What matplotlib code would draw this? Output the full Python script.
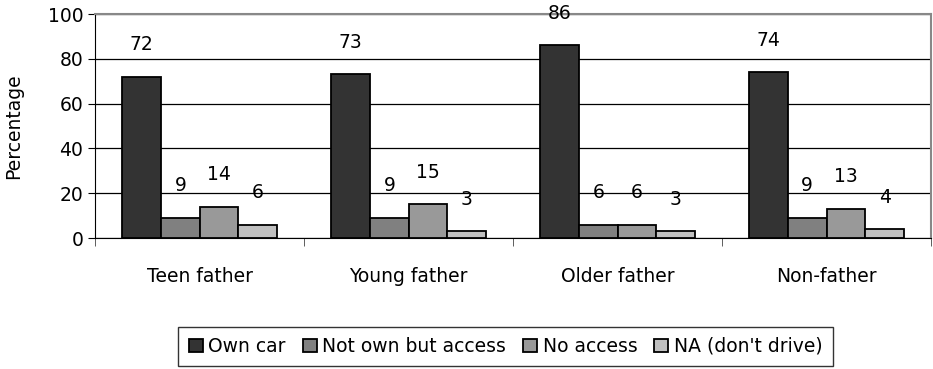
import numpy as np
import matplotlib.pyplot as plt

# Car access by fatherhood status (percent)
groups = ["Teen father", "Young father", "Older father", "Non-father"]
series = ["Own car", "Not own but access", "No access", "NA (don't drive)"]
own_car = [72, 73, 86, 74]
not_own_access = [9, 9, 6, 9]
no_access = [14, 15, 6, 13]
na_dont_drive = [6, 3, 3, 4]

values = [own_car, not_own_access, no_access, na_dont_drive]
colors = ["#333333", "#808080", "#999999", "#c0c0c0"]

plt.rcParams["font.family"] = ["DejaVu Sans"]
plt.rcParams["font.size"] = 13

fig = plt.figure(figsize=(9.33, 3.69), dpi=100)
ax = fig.add_axes([0.102, 0.355, 0.896, 0.607])

x = np.arange(len(groups))
width = 0.185
for i, (vals, col, name) in enumerate(zip(values, colors, series)):
    pos = x + (i - 1.5) * width
    ax.bar(pos, vals, width, color=col, edgecolor="black", linewidth=1.3,
           label=name, zorder=3)
    for px, v in zip(pos, vals):
        ax.annotate(str(v), (px, v), xytext=(0, 23), textcoords="offset points",
                    ha="center", va="center", fontsize=13.5)

ax.set_xlim(-0.5, len(groups) - 0.5)
ax.set_ylim(0, 100)
ax.set_yticks(range(0, 101, 20))
ax.yaxis.grid(True, color="black", linewidth=0.9, zorder=0)
ax.set_ylabel("Percentage", fontsize=13.5)
ax.yaxis.set_label_coords(-0.086, 0.5)

# category labels centered, tick marks on the boundaries
ax.set_xticks(x)
ax.set_xticklabels(groups, fontsize=13.5)
ax.tick_params(axis="x", length=0, pad=21)
ax.set_xticks(np.arange(-0.5, len(groups)), minor=True)
ax.tick_params(axis="x", which="minor", length=6, direction="out", color="#444444")
ax.tick_params(axis="y", length=5, direction="out", labelsize=13.5)

for side in ["top", "right"]:
    ax.spines[side].set_color("#888888")
    ax.spines[side].set_linewidth(1.5)
for side in ["left", "bottom"]:
    ax.spines[side].set_color("black")

leg = fig.legend(loc="center", bbox_to_anchor=(0.542, 0.061), ncol=4,
                 frameon=True, fancybox=False, edgecolor="black",
                 handlelength=0.75, handleheight=0.75, handletextpad=0.3,
                 columnspacing=0.9, borderpad=0.55, fontsize=13.5)
leg.get_frame().set_linewidth(1.0)

fig.savefig("out.png", dpi=100)
